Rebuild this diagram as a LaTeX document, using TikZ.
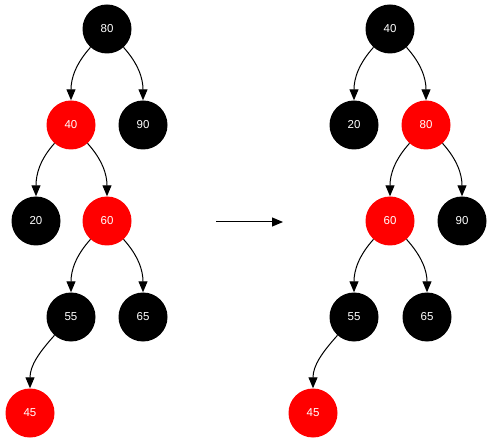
\documentclass[tikz,border=0pt]{standalone}
\usepackage{fontspec}
\setmainfont{Liberation Sans}
\usepackage{tikz}
\usetikzlibrary{arrows,arrows.meta,positioning}

\tikzset{
	blk/.style={circle,fill=black,text=white,minimum size=49pt,inner sep=0pt,font=\fontsize{11.5}{13}\selectfont},
	rd/.style={blk,fill=red},
	lnk/.style={line width=1pt,-{Triangle[length=11pt,width=9pt]}},
}

\begin{document}
\begin{tikzpicture}[x=1pt,y=-1pt]
		\useasboundingbox (0,0) rectangle (500,443);
		% before
		\node[blk] (a80) at (107,29) {80};
		\node[rd] (a40) at (71,125) {40};
		\node[blk] (a90) at (143,125) {90};
		\node[blk] (a20) at (36,221) {20};
		\node[rd] (a60) at (107,221) {60};
		\node[blk] (a55) at (71,317) {55};
		\node[blk] (a65) at (143,317) {65};
		\node[rd] (a45) at (30,413) {45};
		\draw[lnk] (a80) to[out=-132,in=90] (a40);
		\draw[lnk] (a80) to[out=-48,in=90] (a90);
		\draw[lnk] (a40) to[out=-132,in=90] (a20);
		\draw[lnk] (a40) to[out=-48,in=90] (a60);
		\draw[lnk] (a60) to[out=-132,in=90] (a55);
		\draw[lnk] (a60) to[out=-48,in=90] (a65);
		\draw[lnk] (a55) to[out=-132,in=90] (a45);
		% after
		\node[blk] (b40) at (390,29) {40};
		\node[blk] (b20) at (354,125) {20};
		\node[rd] (b80) at (426,125) {80};
		\node[rd] (b60) at (390,221) {60};
		\node[blk] (b90) at (462,221) {90};
		\node[blk] (b55) at (354,317) {55};
		\node[blk] (b65) at (427,317) {65};
		\node[rd] (b45) at (313,413) {45};
		\draw[lnk] (b40) to[out=-132,in=90] (b20);
		\draw[lnk] (b40) to[out=-48,in=90] (b80);
		\draw[lnk] (b80) to[out=-132,in=90] (b60);
		\draw[lnk] (b80) to[out=-48,in=90] (b90);
		\draw[lnk] (b60) to[out=-132,in=90] (b55);
		\draw[lnk] (b60) to[out=-48,in=90] (b65);
		\draw[lnk] (b55) to[out=-132,in=90] (b45);
		% rotation
		\coordinate (p) at (216,222);
		\coordinate (q) at (283,222);
		\draw[lnk] (p) -- (q);
		\end{tikzpicture}
\end{document}
